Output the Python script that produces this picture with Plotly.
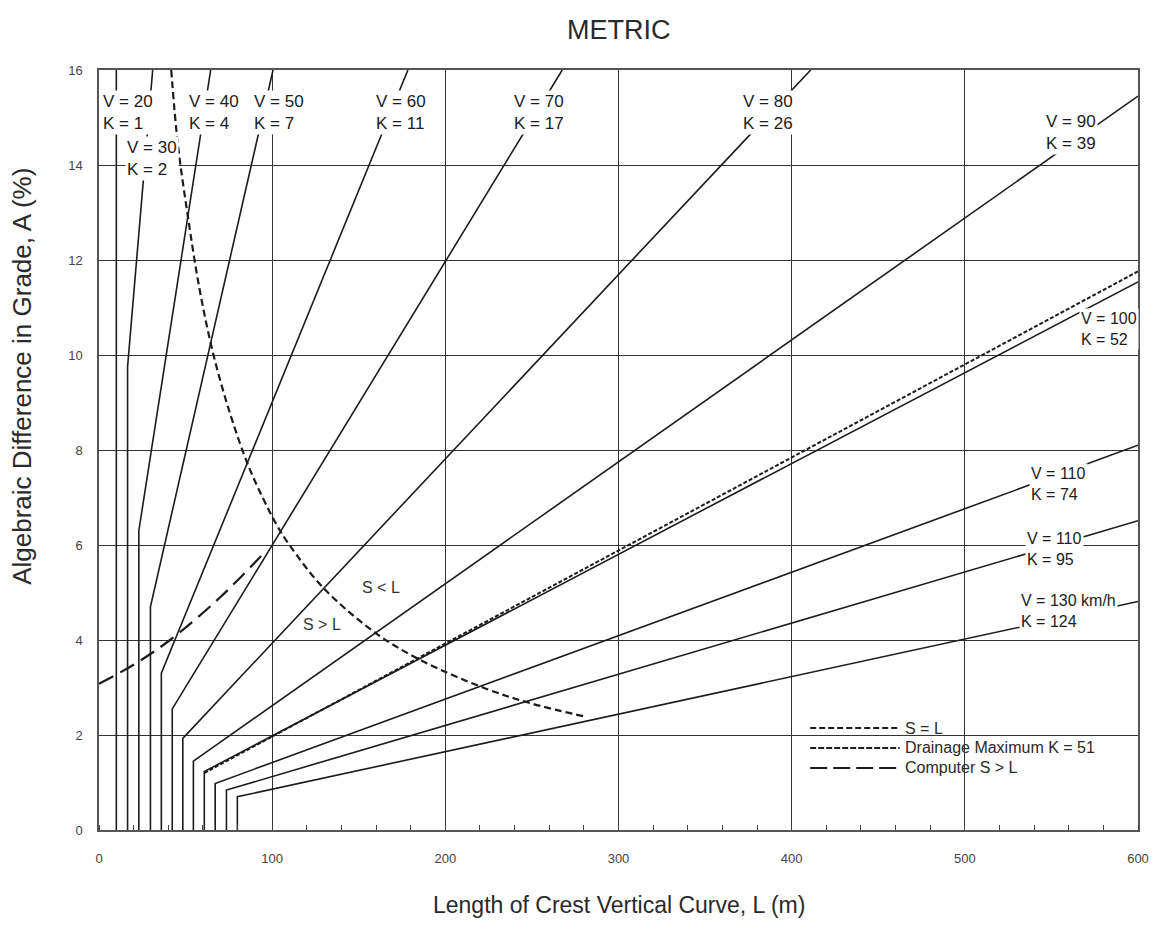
import plotly.graph_objects as go

# ---------------- data ----------------
curve_labels = [
    "V = 20<br>K = 1", "V = 30<br>K = 2", "V = 40<br>K = 4", "V = 50<br>K = 7",
    "V = 60<br>K = 11", "V = 70<br>K = 17", "V = 80<br>K = 26", "V = 90<br>K = 39",
    "V = 100<br>K = 52", "V = 110<br>K = 74", "V = 110<br>K = 95", "V = 130 km/h<br>K = 124",
]
# minimum length (vertical part), grade at the corner, end point of the sloped part
L_min = [10, 16.5, 23, 29.7, 36, 42.3, 48.4, 54.5, 60.8, 67.1, 73.6, 79.9]
A_corner = [16, 9.75, 6.3, 4.7, 3.3, 2.55, 1.93, 1.45, 1.23, 0.98, 0.84, 0.70]
L_end = [10, 31, 64.5, 100.5, 178.4, 267.5, 411, 600, 600, 600, 600, 600]
A_end = [16, 16, 16, 16, 16, 16, 16, 15.45, 11.54, 8.1, 6.51, 4.81]

# label positions (left edge L, middle A)
label_L = [1.2, 15, 51, 88.4, 159, 238.7, 370.6, 545.6, 565.7, 537, 535, 531.3]
label_A = [15.1, 14.13, 15.1, 15.1, 15.1, 15.1, 15.1, 14.68, 10.54, 7.28, 5.92, 4.62]

# S = L boundary
sl_L = [41.7, 45.5, 51.4, 58, 65.8, 75.4, 85.9, 94.5, 102.2, 110, 130, 160.8, 186.7, 223.1, 250, 281.7]
sl_A = [16, 14.45, 12.9, 11.4, 10.05, 8.8, 7.7, 7.0, 6.45, 6.0, 5.08, 4.12, 3.56, 2.98, 2.66, 2.38]

# Drainage maximum K = 51
dr_L = [60.8, 600]
dr_A = [1.2, 11.76]

# Computed S > L
cs_L = [0, 20, 41, 70, 97]
cs_A = [3.08, 3.48, 4.0, 4.9, 5.9]

x_ticks = [0, 100, 200, 300, 400, 500, 600]
y_ticks = [0, 2, 4, 6, 8, 10, 12, 14, 16]

LINE = "#1c1c1c"
GRID = "#333333"
FONT = "Liberation Sans, Arial, sans-serif"
NARROW = "Liberation Sans Narrow, Liberation Sans, Arial, sans-serif"

fig = go.Figure()

for i in range(len(L_min)):
    fig.add_trace(go.Scatter(
        x=[L_min[i], L_min[i], L_end[i]],
        y=[0, A_corner[i], A_end[i]],
        mode="lines", line=dict(color=LINE, width=1.6),
        showlegend=False, hoverinfo="skip"))

fig.add_trace(go.Scatter(x=dr_L, y=dr_A, mode="lines",
                         line=dict(color=LINE, width=2, dash="4px,2px"),
                         showlegend=False, hoverinfo="skip"))
fig.add_trace(go.Scatter(x=sl_L, y=sl_A, mode="lines", line_shape="spline",
                         line=dict(color=LINE, width=2.2, dash="7px,4px"),
                         showlegend=False, hoverinfo="skip"))
fig.add_trace(go.Scatter(x=cs_L, y=cs_A, mode="lines", line_shape="spline",
                         line=dict(color=LINE, width=2.2, dash="16px,8px"),
                         showlegend=False, hoverinfo="skip"))

annotations = []
for i, t in enumerate(curve_labels):
    fs = 17 if i < 8 else 16
    annotations.append(dict(
        x=label_L[i], y=label_A[i], xref="x", yref="y", text=t, showarrow=False,
        xanchor="left", yanchor="middle", align="left",
        font=dict(family=FONT, size=fs, color="#1c1c1c"),
        bgcolor="white", borderpad=1))

annotations += [
    dict(x=162.6, y=5.1, xref="x", yref="y", text="S < L", showarrow=False,
         font=dict(family=FONT, size=16, color="#333")),
    dict(x=129, y=4.33, xref="x", yref="y", text="S > L", showarrow=False,
         font=dict(family=FONT, size=16, color="#333")),
]

# axis titles and main title
annotations += [
    dict(x=0.5, y=-0.0987, xref="paper", yref="paper", text="Length of Crest Vertical Curve, L (m)",
         showarrow=False, xanchor="center", yanchor="middle",
         font=dict(family=FONT, size=23, color="#2a2a2a")),
    dict(x=-0.0736, y=0.597, xref="paper", yref="paper", text="Algebraic Difference in Grade, A (%)",
         showarrow=False, xanchor="center", yanchor="middle", textangle=-90,
         font=dict(family=FONT, size=26, color="#2a2a2a")),
    dict(x=0.5, y=1.0 + 40 / 760, xref="paper", yref="paper", text="METRIC",
         showarrow=False, xanchor="center", yanchor="middle",
         font=dict(family=NARROW, size=27, color="#2a2a2a")),
]

# custom legend (white box, dash samples, texts)
legend_items = ["S = L", "Drainage Maximum K = 51", "Computer S > L"]
legend_dash = ["6px,3px", "6px,2px", "17px,6px"]
legend_y = [0.1342, 0.1079, 0.0816]
shapes = [dict(type="rect", xref="paper", yref="paper", x0=0.670, x1=0.978, y0=0.030, y1=0.162,
               fillcolor="white", line=dict(width=0), layer="between")]
for k in range(3):
    shapes.append(dict(type="line", xref="paper", yref="paper", x0=0.6845, x1=0.7706,
                       y0=legend_y[k], y1=legend_y[k], line=dict(color=LINE, width=2, dash=legend_dash[k])))
    annotations.append(dict(x=0.7734, y=legend_y[k], xref="paper", yref="paper", text=legend_items[k],
                            showarrow=False, xanchor="left", yanchor="middle",
                            font=dict(family=FONT, size=16, color="#2a2a2a")))

fig.update_layout(
    width=1161, height=942, autosize=False,
    margin=dict(l=99, r=12, t=70, b=112),
    paper_bgcolor="white", plot_bgcolor="white",
    showlegend=False,
    annotations=annotations, shapes=shapes,
    font=dict(family=FONT),
)
fig.update_xaxes(
    range=[0, 600], tickvals=x_ticks, ticktext=[str(v) for v in x_ticks],
    showgrid=True, gridcolor=GRID, gridwidth=1.3,
    showline=True, linecolor="#555", linewidth=1.5, mirror=True,
    ticks="", ticklabelstandoff=16, zeroline=False,
    tickfont=dict(family=NARROW, size=13, color="#444"),
    minor=dict(dtick=20, tick0=0, ticks="inside", ticklen=5, tickcolor="#444", showgrid=False),
)
fig.update_yaxes(
    range=[0, 16], tickvals=y_ticks, ticktext=[str(v) for v in y_ticks],
    showgrid=True, gridcolor=GRID, gridwidth=1.3,
    showline=True, linecolor="#555", linewidth=1.5, mirror=True,
    ticks="", ticklabelstandoff=12, zeroline=False,
    tickfont=dict(family=NARROW, size=13, color="#444"),
)

fig.write_html("out.html", config={"displayModeBar": False},
               post_script="document.body.style.margin='0';document.body.style.overflow='hidden';")
